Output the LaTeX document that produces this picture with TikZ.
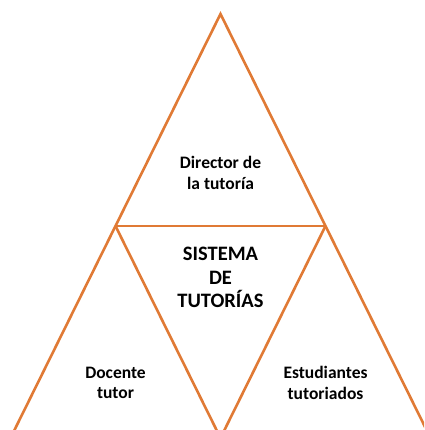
\documentclass[tikz,border=0pt]{standalone}
\usepackage{fontspec}
\setmainfont{Carlito}
\definecolor{naranja}{HTML}{E07A35}

\begin{document}
\begin{tikzpicture}[x=1pt,y=-1pt]
\useasboundingbox (0,0) rectangle (424,430);
\clip (0,0) rectangle (424,430);
% vertices of the triangles
\coordinate (t) at (220.5,14);
\coordinate (l) at (115.5,226);
\coordinate (r) at (325.5,226);
\coordinate (bl) at (10.5,438);
\coordinate (bm) at (220.5,438);
\coordinate (br) at (430.5,438);
\begin{scope}[every node/.style={align=center,inner sep=0pt,font=\bfseries\fontsize{17.5}{20.7}\selectfont}]
    \node (dir) at (220.5,173) {Director de\\la tutoría};
    \node[font=\bfseries\fontsize{20.5}{23.5}\selectfont] (sis) at (220.5,277.5) {SISTEMA\\DE\\TUTORÍAS};
    \node (doc) at (115.5,383) {Docente\\tutor};
    \node (est) at (325.5,383) {Estudiantes\\tutoriados};
\end{scope}
\begin{scope}[draw=naranja,line width=2.6pt]
    \draw[naranja] (bl) -- (t) -- (br);
    \draw[naranja] (l) -- (r);
    \draw[naranja] (l) -- (bm);
    \draw[naranja] (r) -- (bm);
\end{scope}
\end{tikzpicture}
\end{document}
